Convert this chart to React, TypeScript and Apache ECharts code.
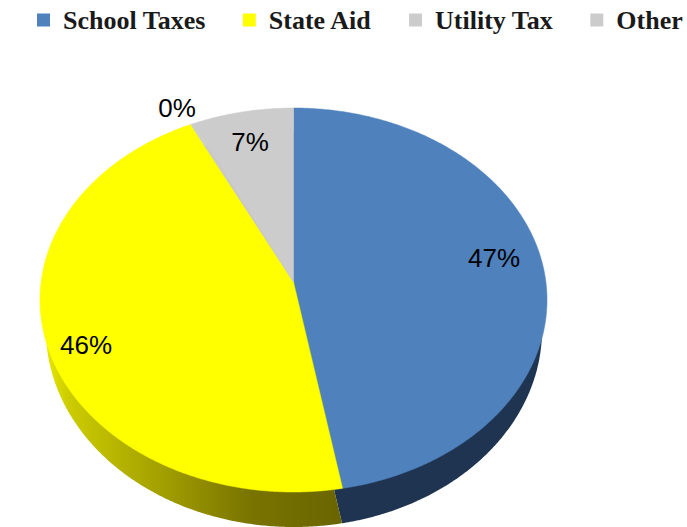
import React, { useEffect, useRef } from "react";
import * as echarts from "echarts";

const categories = ["School Taxes", "State Aid", "Utility Tax", "Other"];
const shares = [46.9, 46.45, 0.15, 6.5];
const topColors = ["#4f81bd", "#ffff00", "#cccccc", "#cccccc"];

// Pie geometry (an oblique extruded ellipse; the apex sits above the ellipse centre)
const TOP = { cx: 293.5, cy: 300, rx: 253.5, ry: 192, ax: 293.5, ay: 282 };
const BASE = { cx: 294, cy: 330, rx: 248, ry: 197, ax: 294, ay: 320 };
const LABEL_AT: [number, number][] = [[494, 258], [86, 345], [177, 108], [250, 142]];

const total = shares.reduce((a, b) => a + b, 0);

function wedge(e: typeof TOP, from: number, to: number) {
  const pts: number[][] = [[e.ax, e.ay]];
  const steps = Math.max(2, Math.ceil((to - from) * 2));
  for (let i = 0; i <= steps; i++) {
    const t = ((from + ((to - from) * i) / steps) * Math.PI) / 180;
    pts.push([e.cx + e.rx * Math.sin(t), e.cy - e.ry * Math.cos(t)]);
  }
  return pts;
}

function sideFill(i: number) {
  if (i === 0) return "#1f3450";
  if (i === 1)
    return new echarts.graphic.LinearGradient(
      45, 0, 343, 0,
      [
        { offset: 0, color: "#e8e800" },
        { offset: 0.08, color: "#cccc00" },
        { offset: 0.35, color: "#a8a500" },
        { offset: 0.68, color: "#7a7500" },
        { offset: 1, color: "#696400" },
      ],
      true
    );
  return "#8a8a8a";
}

function buildSeries() {
  let acc = 0;
  return categories.map((name, i) => {
    const from = (acc / total) * 360;
    acc += shares[i];
    const to = (acc / total) * 360;
    return {
      type: "custom",
      name,
      coordinateSystem: "none",
      silent: true,
      itemStyle: { color: topColors[i] },
      data: [shares[i]],
      renderItem: () => ({
        type: "group",
        children: [
          {
            type: "polygon",
            z2: 1,
            shape: { points: wedge(BASE, from, to) },
            style: { fill: sideFill(i) },
          },
          {
            type: "polygon",
            z2: 2,
            shape: { points: wedge(TOP, from, to) },
            style: { fill: topColors[i], stroke: topColors[i], lineWidth: 0.5 },
          },
          {
            type: "text",
            z2: 5,
            style: {
              text: `${Math.round(shares[i])}%`,
              x: LABEL_AT[i][0],
              y: LABEL_AT[i][1],
              align: "center",
              verticalAlign: "middle",
              fill: "#000000",
              font: '26px "Liberation Sans", Arial, sans-serif',
            },
          },
        ],
      }),
    };
  });
}

export default function App() {
  const ref = useRef<HTMLDivElement>(null);
  useEffect(() => {
    const chart = echarts.init(ref.current!, undefined, { renderer: "svg" });
    chart.setOption({
      animation: false,
      backgroundColor: "#ffffff",
      legend: {
        data: categories,
        left: 37,
        top: 7,
        icon: "rect",
        itemWidth: 13,
        itemHeight: 13,
        itemGap: 37,
        padding: 0,
        selectedMode: false,
        textStyle: {
          fontFamily: '"Liberation Serif", "Times New Roman", serif',
          fontWeight: "bold",
          fontSize: 26,
          color: "#1a1a1a",
          padding: [0, 0, 0, 8],
        },
      },
      series: buildSeries(),
    });
    return () => chart.dispose();
  }, []);
  return (
    <div
      ref={ref}
      style={{ position: "absolute", left: 0, top: 0, width: 687, height: 527 }}
    />
  );
}
